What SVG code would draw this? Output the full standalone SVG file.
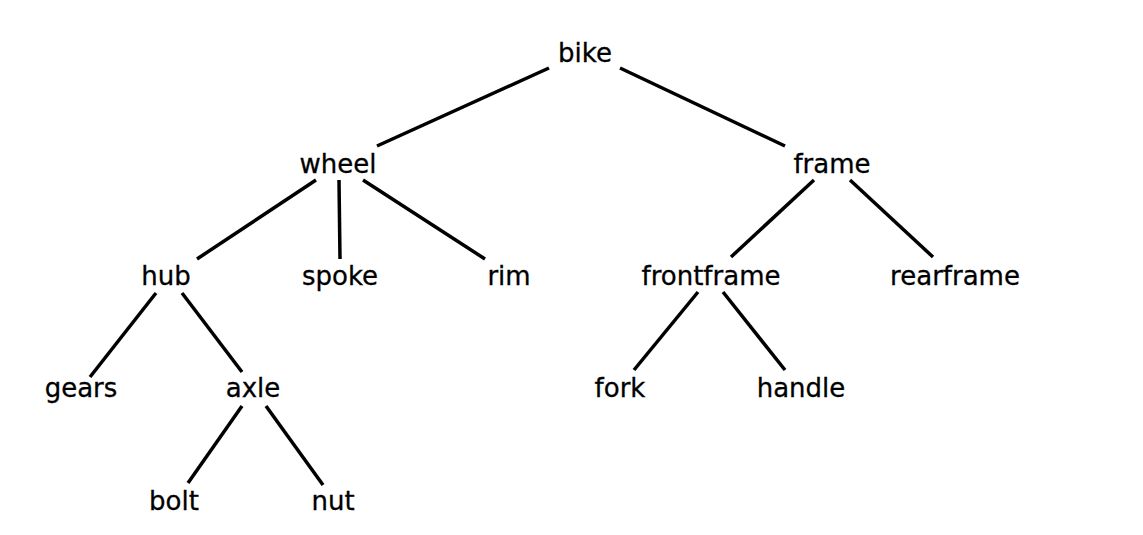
<svg xmlns="http://www.w3.org/2000/svg" width="1143" height="535" viewBox="0 0 1143 535">
<style>
text{font-family:"DejaVu Sans","Liberation Sans",sans-serif;font-size:26px;fill:#000;text-anchor:middle;stroke:#000;stroke-width:0.3px}
.e line{stroke:#000;stroke-width:3.5;stroke-linecap:butt}
</style>
<rect width="1143" height="535" fill="#fff"/>
<g class="e" id="edges">
<line x1="549" y1="68" x2="377" y2="146"/>
<line x1="620" y1="68" x2="785" y2="146"/>
<line x1="316" y1="180" x2="197" y2="259"/>
<line x1="339" y1="180" x2="340" y2="259"/>
<line x1="363" y1="180" x2="485" y2="259"/>
<line x1="814" y1="180" x2="731" y2="257"/>
<line x1="850" y1="180" x2="933" y2="257"/>
<line x1="156" y1="293" x2="90" y2="377"/>
<line x1="182" y1="293" x2="242" y2="372"/>
<line x1="698" y1="292" x2="634" y2="370"/>
<line x1="723" y1="292" x2="785" y2="370"/>
<line x1="242" y1="406" x2="188" y2="483"/>
<line x1="266" y1="406" x2="323" y2="485"/>
</g>
<g id="bike"><text x="585" y="62">bike</text></g>
<g id="wheel"><text x="338" y="173">wheel</text></g>
<g id="frame"><text x="832" y="173">frame</text></g>
<g id="hub"><text x="166" y="285">hub</text></g>
<g id="spoke"><text x="340" y="285">spoke</text></g>
<g id="rim"><text x="509" y="285">rim</text></g>
<g id="frontframe"><text x="711" y="285">frontframe</text></g>
<g id="rearframe"><text x="955" y="285">rearframe</text></g>
<g id="gears"><text x="81" y="397">gears</text></g>
<g id="axle"><text x="253" y="397">axle</text></g>
<g id="fork"><text x="620" y="397">fork</text></g>
<g id="handle"><text x="801" y="397">handle</text></g>
<g id="bolt"><text x="174" y="510">bolt</text></g>
<g id="nut"><text x="333" y="510">nut</text></g>
</svg>
